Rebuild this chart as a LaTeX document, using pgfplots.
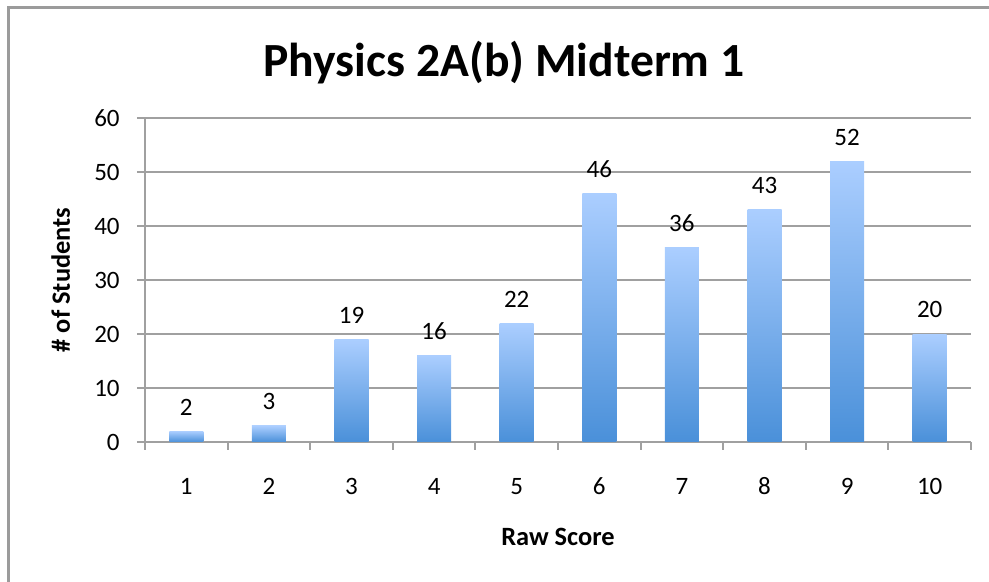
\documentclass[border=0pt]{standalone}
\usepackage{fontspec}
\setmainfont{Carlito}
\usepackage{pgfplots}
\pgfplotsset{compat=1.18}
\definecolor{gridgray}{RGB}{160,160,160}
\definecolor{framegray}{RGB}{155,155,155}
\definecolor{bartop}{RGB}{171,206,255}
\definecolor{barbot}{RGB}{74,144,217}
\begin{document}
\begin{tikzpicture}
\useasboundingbox (0pt,0pt) rectangle (494.5pt,291pt);
\draw[framegray, line width=1.25pt] (4.25pt,-5pt) -- (4.25pt,287.25pt) -- (500pt,287.25pt);
\node[font=\fontsize{23.8}{28}\selectfont\bfseries, anchor=base] at (252pt,252.5pt) {Physics 2A(b) Midterm 1};
\begin{axis}[
  at={(72.5pt,70pt)}, anchor=south west,
  scale only axis, width=413pt, height=162pt,
  xmin=0.5, xmax=10.5, ymin=0, ymax=60,
  axis x line*=bottom, axis y line*=left,
  axis line style={gridgray, line width=1pt},
  /pgf/number format/assume math mode=true,
  ytick={0,10,20,30,40,50,60},
  ymajorgrids, grid style={gridgray, line width=1pt},
  xtick={0.5,1.5,2.5,3.5,4.5,5.5,6.5,7.5,8.5,9.5,10.5},
  xticklabels={},
  extra x ticks={1,2,3,4,5,6,7,8,9,10},
  extra x tick labels={1,2,3,4,5,6,7,8,9,10},
  extra x tick style={major tick length=0pt, xticklabel style={anchor=base, yshift=-26.5pt}},
  tick align=outside, major tick length=4pt,
  tick style={gridgray, line width=1pt},
  tick label style={font=\fontsize{12.5}{15}\selectfont},
  yticklabel style={anchor=east, inner sep=0pt, xshift=-8.5pt},
  xlabel={Raw Score}, ylabel={\# of Students},
  every axis x label/.style={at={(axis description cs:0.5,-0.321)}, anchor=base, font=\fontsize{13.2}{16}\selectfont\bfseries},
  every axis y label/.style={at={(axis description cs:-0.0908,0.5)}, anchor=base, rotate=90, font=\fontsize{13.2}{16}\selectfont\bfseries},
  ybar, bar width=17pt, bar shift=0pt,
  nodes near coords,
  every node near coord/.append style={font=\fontsize{12.5}{15}\selectfont, anchor=base, yshift=8pt, text=black},
  clip=false,
  barstyle/.style={draw=none, top color=bartop, bottom color=barbot},
]
\addplot[barstyle] coordinates {(1,2)};
\addplot[barstyle] coordinates {(2,3)};
\addplot[barstyle] coordinates {(3,19)};
\addplot[barstyle] coordinates {(4,16)};
\addplot[barstyle] coordinates {(5,22)};
\addplot[barstyle] coordinates {(6,46)};
\addplot[barstyle] coordinates {(7,36)};
\addplot[barstyle] coordinates {(8,43)};
\addplot[barstyle] coordinates {(9,52)};
\addplot[barstyle] coordinates {(10,20)};
\end{axis}
\end{tikzpicture}
\end{document}
